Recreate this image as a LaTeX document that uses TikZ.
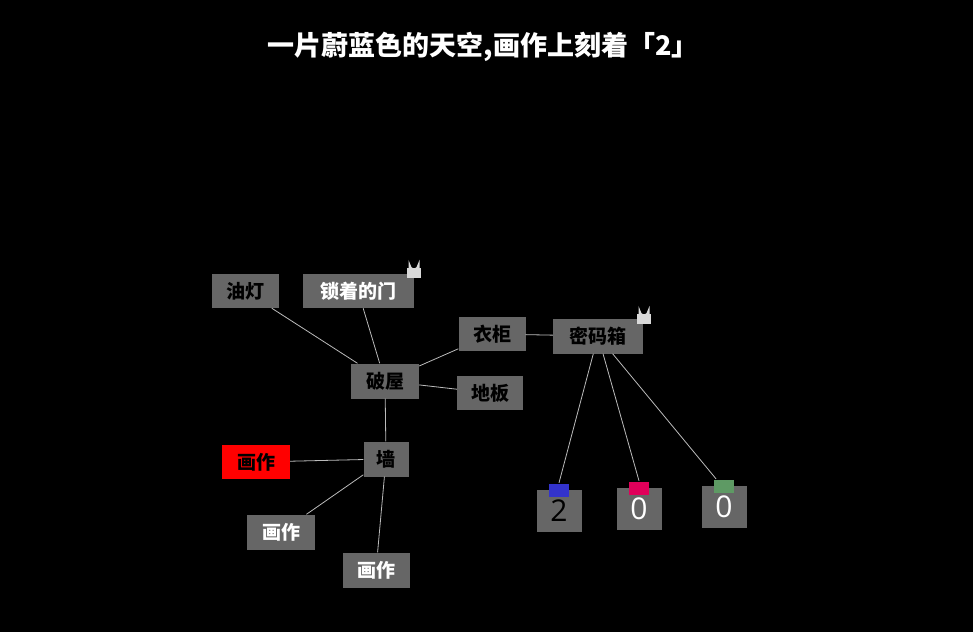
\documentclass[tikz,border=0pt]{standalone}
\usepackage{fontspec}
\setmainfont{Noto Sans CJK SC}
\newfontfamily\digitfont{Open Sans}
\definecolor{boxgray}{HTML}{666666}
\definecolor{linegray}{HTML}{BBBBBB}
\definecolor{tabblue}{HTML}{3333CC}
\definecolor{tabpink}{HTML}{E0005A}
\definecolor{tabgreen}{HTML}{5E9A64}
\tikzset{
  clue/.style={fill=boxgray,minimum height=34pt,inner xsep=6pt,font=\fontsize{19}{19}\selectfont\bfseries},
  digit/.style={fill=boxgray,minimum width=45pt,minimum height=42pt,inner sep=0pt,font=\digitfont\fontsize{30}{30}\selectfont},
  link/.style={linegray,line width=0.8pt},
}
\newcommand\padlock[1]{%
  \fill[white!85!black] ($(#1)+(-7,-2)$) rectangle ($(#1)+(7,8)$);
  \draw[white!85!black,line width=2pt] ($(#1)+(-4.5,-2)$) -- ++(0,-3) arc (180:0:4.5) -- ++(0,3);}
\usetikzlibrary{calc}
\begin{document}
\begin{tikzpicture}[x=1pt,y=-1pt]
\useasboundingbox[fill=black] (0,0) rectangle (973,632);
\node[white,font=\fontsize{27}{27}\selectfont\bfseries] (title) at (483,47) {一片蔚蓝色的天空,画作上刻着「2」};
% house side
\node[clue,minimum width=67pt] (lamp) at (245,291) {油灯};
\node[clue,minimum width=111pt,text=white] (door) at (358,291) {锁着的门};
\node[clue,minimum width=67pt] (wardrobe) at (492,334) {衣柜};
\node[clue,minimum width=90pt,minimum height=35pt] (safe) at (598,336) {密码箱};
\node[clue,minimum width=68pt,minimum height=35pt] (hut) at (385,381) {破屋};
\node[clue,minimum width=66pt] (floor) at (490,393) {地板};
\node[clue,minimum width=45pt,minimum height=35pt] (wall) at (386,459) {墙};
\node[clue,minimum width=68pt,fill=red] (paintA) at (256,462) {画作};
\node[clue,minimum width=68pt,minimum height=35pt,text=white] (paintB) at (281,532) {画作};
\node[clue,minimum width=67pt,minimum height=35pt,text=white] (paintC) at (376,570) {画作};
% digits
\node[digit] (d1) at (559,511) {2};
\node[digit,text=white] (d2) at (639,509) {0};
\node[digit,text=white] (d3) at (724,507) {0};
\fill[tabblue] (549,484) rectangle (569,497);
\fill[tabpink] (629,482) rectangle (649,495);
\fill[tabgreen] (714,480) rectangle (734,493);
% links
\draw[link] (lamp) -- (hut);
\draw[link] (door) -- (hut);
\draw[link] (wardrobe) -- (hut);
\draw[link] (floor) -- (hut);
\draw[link] (wall) -- (hut);
\draw[link] (wardrobe) -- (safe);
\draw[link] (paintA) -- (wall);
\draw[link] (paintB) -- (wall);
\draw[link] (paintC) -- (wall);
\draw[link] (safe) -- ($(d1.north)+(0,-7)$);
\draw[link] (safe) -- ($(d2.north)+(0,-7)$);
\draw[link] (safe) -- ($(d3.north)+(-8,-7)$);
% locks
\coordinate (lockA) at (414,270);
\coordinate (lockB) at (644,316);
\padlock{lockA}
\padlock{lockB}
\end{tikzpicture}
\end{document}
